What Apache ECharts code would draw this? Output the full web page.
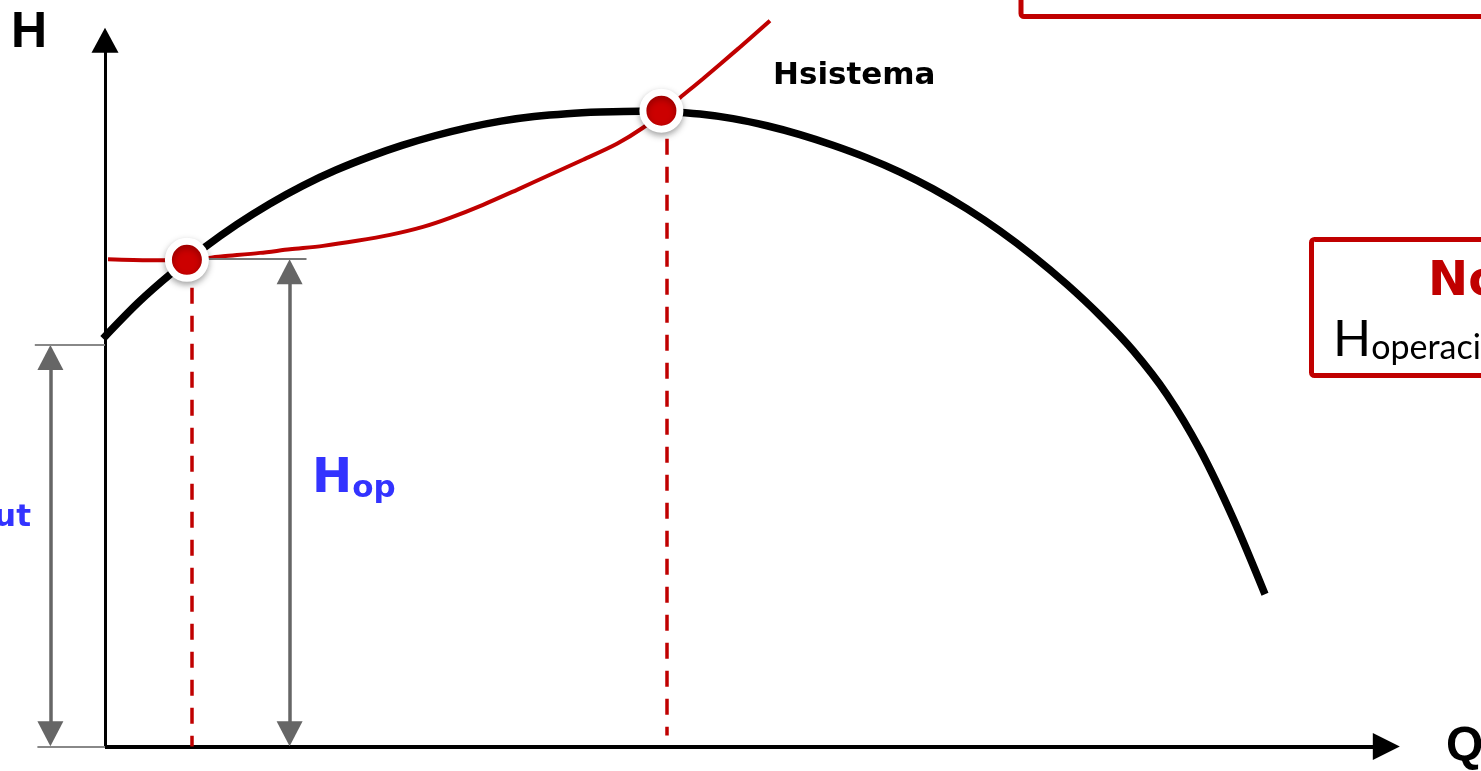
<!DOCTYPE html>
<html>
<head>
<meta charset="utf-8">
<title>Curva H-Q</title>
<script src="https://cdn.jsdelivr.net/npm/echarts@6/dist/echarts.min.js"></script>
<style>
  html, body { margin: 0; padding: 0; background: #fff; }
  #chart { width: 1481px; height: 771px; }
</style>
</head>
<body>
<div id="chart"></div>
<script>
// curva de la bomba (Q, H)
let bombaQ = [-0.15, 2.54, 5.08, 7.62, 10.15, 12.69, 15.23, 17.77, 20.31, 22.85, 25.38, 27.92, 30.46, 33.0, 35.54, 38.08, 41.15, 43.23, 45.77, 48.31, 50.92, 53.46, 56.0, 58.62, 61.15, 63.69, 66.31, 68.85, 71.38, 74.0, 76.54, 79.08, 81.69, 84.23, 86.77, 89.23]
let bombaH = [56.58, 61.54, 65.58, 69.18, 72.42, 75.29, 77.81, 79.96, 81.79, 83.38, 84.72, 85.85, 86.75, 87.38, 87.78, 88.0, 88.13, 88.06, 87.74, 87.1, 86.11, 84.88, 83.4, 81.65, 79.68, 77.35, 74.57, 71.5, 68.06, 64.08, 59.78, 54.92, 48.81, 41.17, 31.67, 21.11]

// curva del sistema
let sistemaQ = [0.23, 3.46, 6.31, 9.08, 11.92, 14.23, 16.77, 19.38, 21.92, 24.46, 26.54, 29.08, 31.69, 34.23, 36.77, 39.38, 41.38, 42.85, 44.23, 46.0, 48.62, 51.15]
let sistemaH = [67.57, 67.43, 67.5, 67.99, 68.47, 68.96, 69.44, 70.14, 70.97, 72.08, 73.33, 75.14, 77.22, 79.31, 81.39, 83.61, 85.83, 87.92, 90.0, 92.64, 96.67, 100.69]

// puntos de operacion
let opQ = [6.3, 42.8]
let opH = [67.5, 88.2]

// lineas verticales punteadas
let guiaQ = [6.7, 43.2]
let guiaH = [67.5, 88.2]
let guiaBase = [0, 1.5]

// cotas Hop y Hcut
let hopQ = 14.2
let hopH = 67.6
let cutQ = -4.2
let cutH = 55.7

// fin de los ejes (punta de la flecha)
let ejeQmax = 99.6
let ejeHmax = 99.7

let chart = echarts.init(document.getElementById('chart'))

function pares(xs, ys) {
  return xs.map(function(x, i) { return [x, ys[i]] })
}

// la flecha de markLine queda centrada en el extremo: se recorta media flecha
let pxQ = 13, pxH = 7.2
let medQ = 13.5 / pxQ
let medH = 12.5 / pxH

let tri = 'triangle'
let gris = '#666'

let option = {
  animation: false,
  backgroundColor: '#fff',
  grid: { left: 1, right: 11, top: 4, bottom: 3 },
  xAxis: { type: 'value', min: -8, max: 105, show: false },
  yAxis: { type: 'value', min: -3, max: 103, show: false },
  series: [
    // ejes y cotas
    {
      type: 'line',
      data: [],
      silent: true,
      markLine: {
        silent: true,
        symbol: ['none', 'none'],
        label: { show: false },
        emphasis: { disabled: true },
        data: [
          [
            { coord: [0, 0], lineStyle: { color: '#000', width: 4, type: 'solid' } },
            { coord: [ejeQmax - medQ, 0], symbol: tri, symbolSize: [27, 27] }
          ],
          [
            { coord: [0, 0], lineStyle: { color: '#000', width: 3, type: 'solid' } },
            { coord: [0, ejeHmax - medH], symbol: tri, symbolSize: [27, 25] }
          ],
          // Hop
          [
            { coord: [hopQ, medH], symbol: tri, symbolSize: [26, 25], lineStyle: { color: gris, width: 3.5, type: 'solid' } },
            { coord: [hopQ, hopH - medH], symbol: tri, symbolSize: [26, 25] }
          ],
          [
            { coord: [6.8, hopH], lineStyle: { color: '#777', width: 2, type: 'solid' } },
            { coord: [15.5, hopH] }
          ],
          // Hcut
          [
            { coord: [cutQ, medH], symbol: tri, symbolSize: [26, 25], lineStyle: { color: gris, width: 3.5, type: 'solid' } },
            { coord: [cutQ, cutH - medH], symbol: tri, symbolSize: [26, 25] }
          ],
          [
            { coord: [-5.4, cutH], lineStyle: { color: '#888', width: 2, type: 'solid' } },
            { coord: [0, cutH] }
          ],
          [
            { coord: [-5.2, 0], lineStyle: { color: '#888', width: 2, type: 'solid' } },
            { coord: [0, 0] }
          ],
          // guias punteadas
          [
            { coord: [guiaQ[0], guiaH[0]], lineStyle: { color: '#c00000', width: 3.5, type: [16, 12] } },
            { coord: [guiaQ[0], guiaBase[0]] }
          ],
          [
            { coord: [guiaQ[1], guiaH[1]], lineStyle: { color: '#c00000', width: 3.5, type: [16, 12] } },
            { coord: [guiaQ[1], guiaBase[1]] }
          ]
        ]
      }
    },
    {
      name: 'Hsistema',
      type: 'line',
      data: pares(sistemaQ, sistemaH),
      smooth: 0.3,
      showSymbol: false,
      silent: true,
      lineStyle: { color: '#c00000', width: 4 },
      z: 3
    },
    {
      name: 'Hbomba',
      type: 'line',
      data: pares(bombaQ, bombaH),
      smooth: 0.3,
      showSymbol: false,
      silent: true,
      lineStyle: { color: '#000', width: 7.5, cap: 'butt' },
      z: 4
    },
    {
      name: 'operacion',
      type: 'scatter',
      data: pares(opQ, opH),
      symbolSize: 37,
      silent: true,
      itemStyle: {
        color: '#cc0000',
        opacity: 1,
        borderColor: '#fff',
        borderWidth: 7,
        shadowBlur: 7,
        shadowColor: 'rgba(0,0,0,0.3)',
        shadowOffsetY: 3
      },
      z: 10
    }
  ],
  graphic: [
    {
      type: 'text',
      style: { text: 'H', x: 11, y: 58, fill: '#000', font: 'bold 50px "Liberation Sans"', verticalAlign: 'bottom' }
    },
    {
      type: 'text',
      style: { text: 'Q', x: 1446, y: 771, fill: '#000', font: 'bold 48px "Liberation Sans"', verticalAlign: 'bottom' }
    },
    {
      type: 'text',
      style: { text: 'Hsistema', x: 773, y: 76, fill: '#000', font: 'bold 31px "DejaVu Sans"', verticalAlign: 'middle' }
    },
    {
      type: 'text',
      style: {
        text: '{a|H}{b|op}',
        x: 312, y: 504,
        verticalAlign: 'bottom',
        rich: {
          a: { font: 'bold 48px "DejaVu Sans"', fill: '#3333ff', verticalAlign: 'bottom' },
          b: { font: 'bold 31px "DejaVu Sans"', fill: '#3333ff', verticalAlign: 'bottom' }
        }
      }
    },
    {
      type: 'text',
      style: {
        text: '{a|H}{b|cut}',
        x: 31, y: 533,
        align: 'right',
        verticalAlign: 'bottom',
        rich: {
          a: { font: 'bold 48px "DejaVu Sans"', fill: '#3333ff', verticalAlign: 'bottom' },
          b: { font: 'bold 31px "DejaVu Sans"', fill: '#3333ff', verticalAlign: 'bottom' }
        }
      }
    },
    {
      type: 'rect',
      shape: { x: 1021, y: -60, width: 600, height: 76.5, r: 3 },
      style: { fill: 'none', stroke: '#c00000', lineWidth: 5 }
    },
    {
      type: 'rect',
      shape: { x: 1311.5, y: 239.5, width: 400, height: 136, r: 3 },
      style: { fill: '#fff', stroke: '#c00000', lineWidth: 5 }
    },
    {
      type: 'text',
      style: { text: 'Nota:', x: 1428, y: 283, fill: '#c00000', font: 'bold 48px "DejaVu Sans"', verticalAlign: 'middle' }
    },
    {
      type: 'text',
      style: {
        text: '{a|H}{b|operación}',
        x: 1333, y: 365,
        verticalAlign: 'bottom',
        rich: {
          a: { font: '50px Lato', fill: '#000', verticalAlign: 'bottom' },
          b: { font: '34px Lato', fill: '#000', verticalAlign: 'bottom' }
        }
      }
    }
  ]
}

chart.setOption(option)
</script>
</body>
</html>
